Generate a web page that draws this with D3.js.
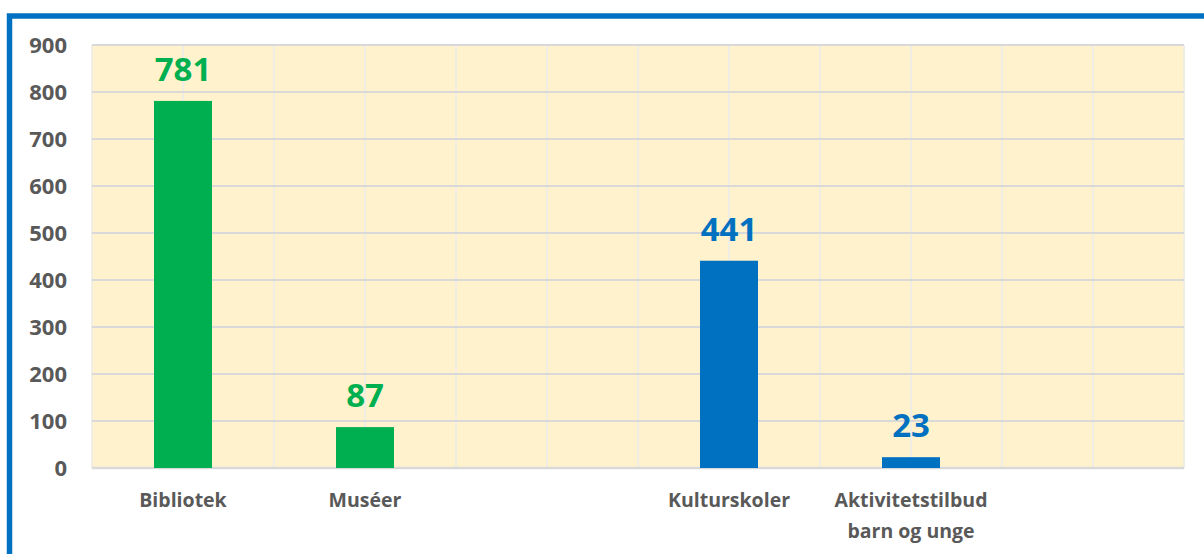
<!DOCTYPE html>
<html lang="no">
<head>
<meta charset="UTF-8">
<title>Kultur</title>
<script src="https://d3js.org/d3.v7.min.js"></script>
<style>
  body { margin: 0; background: #fff; }
  svg { display: block; font-family: "Open Sans", "Noto Sans", sans-serif; }
</style>
</head>
<body>
<div id="chart"></div>
<script>
// data
const categories = ["Bibliotek", "Muséer", "", "Kulturskoler", "Aktivitetstilbud\nbarn og unge", ""];
const values = [781, 87, null, 441, 23, null];
const groups = ["kultur", "kultur", null, "skole", "skole", null];
const yTicks = [0, 100, 200, 300, 400, 500, 600, 700, 800, 900];

const W = 1204, H = 554;
const plot = { left: 92, right: 1184, top: 45, bottom: 468 };

const svg = d3.select("#chart").append("svg")
  .attr("width", W).attr("height", H);

// blue frame (runs off right and bottom)
svg.append("rect")
  .attr("x", 9.5).attr("y", 16)
  .attr("width", W + 20).attr("height", H + 20)
  .attr("fill", "none")
  .attr("stroke", "#0070C0")
  .attr("stroke-width", 5.5);

const x = d3.scaleBand()
  .domain(d3.range(categories.length))
  .range([plot.left, plot.right])
  .padding(0);

const y = d3.scaleLinear()
  .domain([0, 900])
  .range([plot.bottom, plot.top]);

const color = d3.scaleOrdinal()
  .domain(["kultur", "skole"])
  .range(["#00B050", "#0070C0"]);

// plot background
svg.append("rect")
  .attr("x", plot.left).attr("y", plot.top)
  .attr("width", plot.right - plot.left)
  .attr("height", plot.bottom - plot.top)
  .attr("fill", "#FFF2CC");

// vertical gridlines at band edges and centres
const vLines = [];
d3.range(categories.length).forEach(i => {
  vLines.push(x(i));
  vLines.push(x(i) + x.bandwidth() / 2);
});
vLines.push(plot.right);
svg.append("g").selectAll("line")
  .data(vLines)
  .enter().append("line")
  .attr("x1", d => d).attr("x2", d => d)
  .attr("y1", plot.top).attr("y2", plot.bottom)
  .attr("stroke", "#F0EDE4")
  .attr("stroke-width", 2);

// horizontal gridlines
svg.append("g").selectAll("line")
  .data(yTicks)
  .enter().append("line")
  .attr("x1", plot.left).attr("x2", plot.right)
  .attr("y1", d => y(d)).attr("y2", d => y(d))
  .attr("stroke", "#D9D9D9")
  .attr("stroke-width", d => d === 0 ? 2.5 : 2);

// y axis labels
const yAxis = svg.append("g")
  .attr("transform", "translate(67,0)")
  .call(d3.axisLeft(y).tickValues(yTicks).tickSize(0).tickPadding(0));
yAxis.select(".domain").remove();
yAxis.selectAll("text")
  .attr("fill", "#595959")
  .style("font-size", "22px")
  .style("font-weight", "700")
  .style("font-family", "'Open Sans', sans-serif");

// bars
const barW = 58;
const bars = d3.range(categories.length).filter(i => values[i] != null);
svg.append("g").selectAll("rect")
  .data(bars)
  .enter().append("rect")
  .attr("x", i => x(i) + x.bandwidth() / 2 - barW / 2)
  .attr("y", i => y(values[i]))
  .attr("width", barW)
  .attr("height", i => y(0) - y(values[i]))
  .attr("fill", i => color(groups[i]));

// value labels
svg.append("g").selectAll("text")
  .data(bars)
  .enter().append("text")
  .attr("x", i => x(i) + x.bandwidth() / 2)
  .attr("y", i => y(values[i]) - 20)
  .attr("text-anchor", "middle")
  .attr("fill", i => color(groups[i]))
  .style("font-size", "33px")
  .style("font-weight", "700")
  .text(i => values[i]);

// category labels
const cat = svg.append("g").selectAll("text")
  .data(d3.range(categories.length))
  .enter().append("text")
  .attr("text-anchor", "middle")
  .attr("fill", "#595959")
  .style("font-size", "19.5px")
  .style("font-weight", "700");
cat.selectAll("tspan")
  .data(i => categories[i].split("\n").map(t => ({ t, i })))
  .enter().append("tspan")
  .attr("x", d => x(d.i) + x.bandwidth() / 2)
  .attr("y", (d, k) => 507 + k * 31)
  .text(d => d.t);
</script>
</body>
</html>
